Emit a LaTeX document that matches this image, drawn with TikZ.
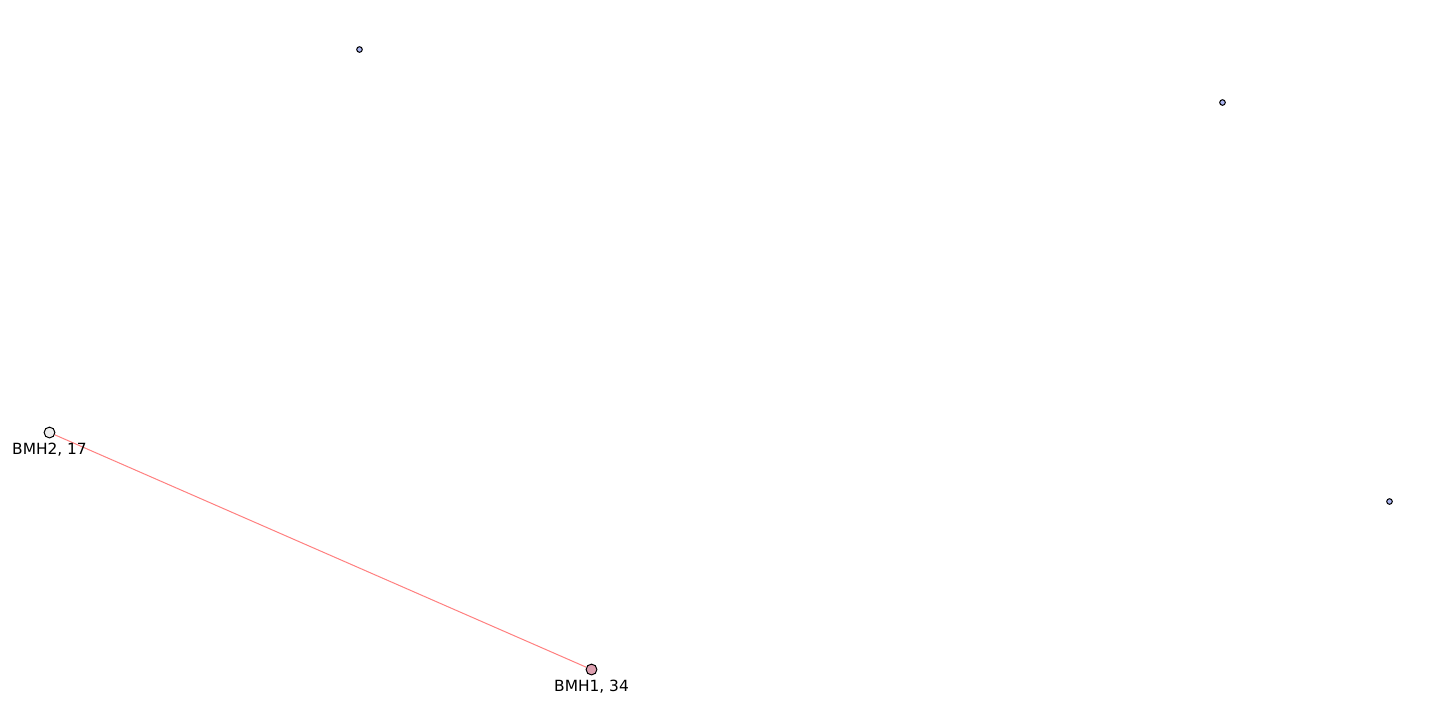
\documentclass[tikz,border=0pt]{standalone}
\usepackage{fontspec}
\setmainfont{DejaVu Sans}
\definecolor{smallfill}{HTML}{AAB4F0}
\definecolor{bigpink}{HTML}{DDA0B0}
\definecolor{biggray}{HTML}{EEEEEE}
\definecolor{edgered}{HTML}{FF8080}
\begin{document}
\begin{tikzpicture}[x=0.5pt,y=-0.5pt,
  smallnode/.style={circle,draw=black,fill=smallfill,line width=0.5pt,inner sep=0pt,minimum size=2.8pt},
  bignode/.style={circle,draw=black,line width=0.5pt,inner sep=0pt,minimum size=5.4pt},
  lbl/.style={font=\fontsize{7.7pt}{9pt}\selectfont,inner sep=0pt},
  edge/.style={draw=edgered,line width=0.5pt}]
\useasboundingbox[fill=white] (0,0) rectangle (1440,720);
\node[smallnode] (a) at (359.5,49.5) {};
\node[smallnode] (b) at (1222.5,102.5) {};
\node[smallnode] (c) at (1389.5,501.5) {};
\node[bignode,fill=biggray] (bmh2) at (49.5,432.5) {};
\node[bignode,fill=bigpink] (bmh1) at (591.5,669.5) {};
\draw[edge] (bmh2) -- (bmh1);
\node[lbl] (l2) at (49.5,449.5) {BMH2, 17};
\node[lbl] (l1) at (591.5,686.5) {BMH1, 34};
\end{tikzpicture}
\end{document}
